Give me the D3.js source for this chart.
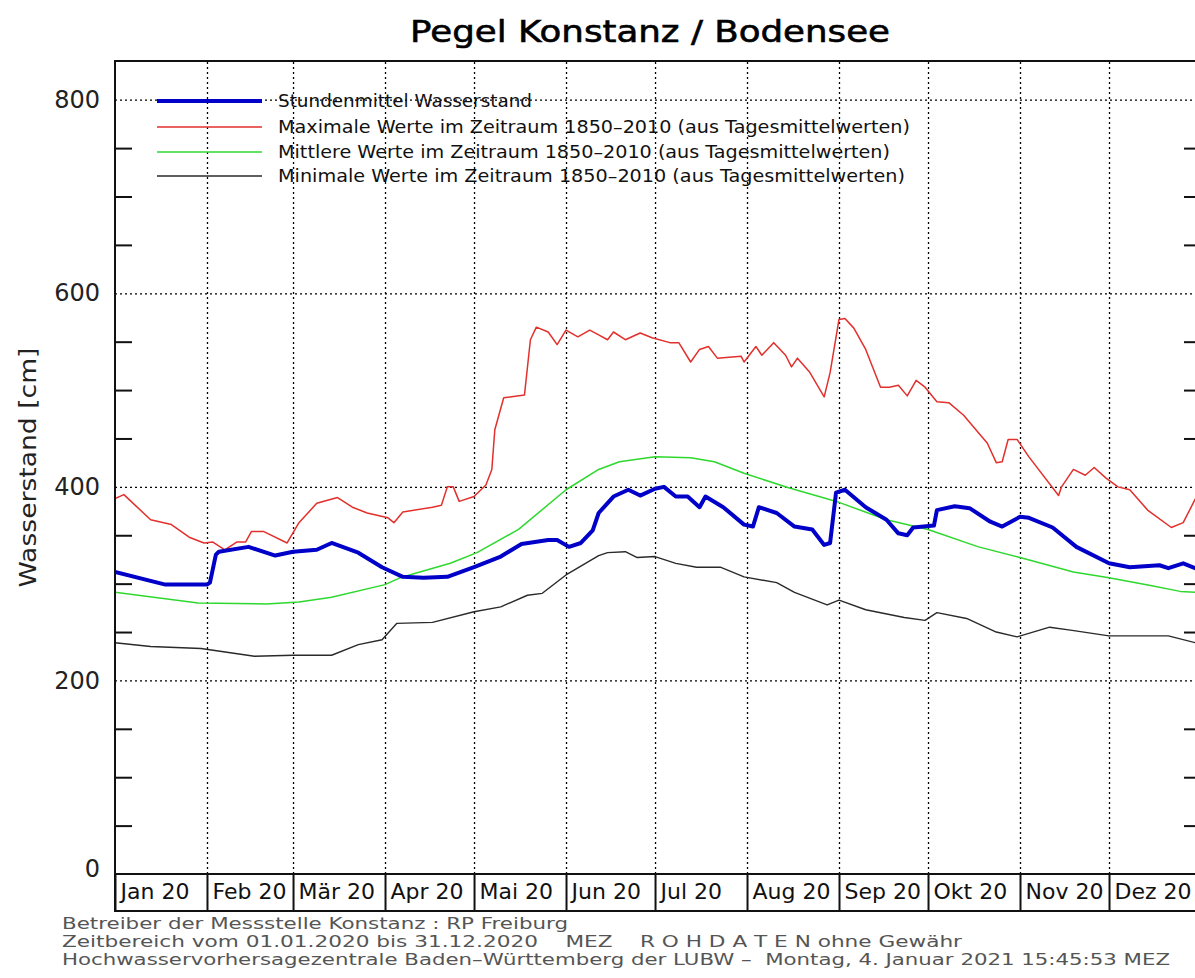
<!DOCTYPE html>
<html>
<head>
<meta charset="utf-8">
<script src="https://cdn.jsdelivr.net/npm/d3@7"></script>
<style>
  body { margin: 0; background: #fff; }
  svg { display: block; font-family: "DejaVu Sans", sans-serif; }
  .grid line { stroke: #000; stroke-width: 1.3; stroke-dasharray: 2 3; }
  .grid path { display: none; }
  .ticks line { stroke: #111; stroke-width: 2; }
  .ticks path { display: none; }
</style>
</head>
<body>
<svg id="chart"></svg>
<script>
// month labels in the band under the plot
const monthLabels = ['Jan 20', 'Feb 20', 'Mär 20', 'Apr 20', 'Mai 20', 'Jun 20',
  'Jul 20', 'Aug 20', 'Sep 20', 'Okt 20', 'Nov 20', 'Dez 20']
const yLabels = [0, 200, 400, 600, 800]

// Stundenmittel Wasserstand 2020 (cm)
const stundenmittel = [
  ['01-01', 312], ['01-18', 299], ['02-01', 299], ['02-02', 301], ['02-04', 330],
  ['02-05', 333], ['02-15', 338], ['02-24', 329], ['03-01', 333], ['03-09', 335],
  ['03-14', 342], ['03-23', 332], ['03-31', 317], ['04-07', 307], ['04-14', 306],
  ['04-22', 307], ['05-01', 317], ['05-10', 328], ['05-17', 341], ['05-26', 345],
  ['05-29', 345], ['06-02', 338], ['06-06', 342], ['06-10', 355], ['06-12', 373],
  ['06-17', 390], ['06-22', 397], ['06-26', 391], ['07-01', 398], ['07-04', 400],
  ['07-08', 390], ['07-12', 390], ['07-16', 379], ['07-18', 390], ['07-24', 379],
  ['07-31', 361], ['08-03', 359], ['08-05', 379], ['08-11', 373], ['08-17', 359],
  ['08-23', 356], ['08-27', 340], ['08-29', 342], ['08-31', 394], ['09-03', 397],
  ['09-10', 379], ['09-17', 366], ['09-21', 352], ['09-24', 350], ['09-26', 358],
  ['10-03', 360], ['10-04', 376], ['10-10', 380], ['10-15', 378], ['10-22', 364],
  ['10-26', 359], ['11-01', 369], ['11-04', 368], ['11-12', 358], ['11-20', 338],
  ['12-01', 321], ['12-08', 317], ['12-18', 319], ['12-21', 316], ['12-26', 321],
  ['12-30', 316], ['12-31', 317]
]

// Maximale Werte 1850-2010
const maximal = [
  ['01-01', 388], ['01-04', 392], ['01-13', 366], ['01-20', 361], ['01-26', 348],
  ['01-31', 342], ['02-03', 343], ['02-07', 335], ['02-11', 343], ['02-14', 343],
  ['02-16', 354], ['02-20', 354], ['02-28', 342], ['03-03', 363], ['03-09', 383],
  ['03-16', 389], ['03-21', 379], ['03-26', 373], ['04-02', 368], ['04-04', 363],
  ['04-07', 374], ['04-17', 379], ['04-20', 381], ['04-22', 400], ['04-24', 400],
  ['04-26', 385], ['05-01', 390], ['05-05', 402], ['05-07', 418], ['05-08', 459],
  ['05-11', 492], ['05-18', 495], ['05-20', 552], ['05-22', 565], ['05-26', 560],
  ['05-29', 547], ['06-01', 562], ['06-05', 555], ['06-09', 562], ['06-12', 557],
  ['06-15', 552], ['06-17', 560], ['06-21', 552], ['06-26', 559], ['06-30', 554],
  ['07-06', 549], ['07-09', 549], ['07-13', 529], ['07-16', 542], ['07-19', 545],
  ['07-22', 533], ['07-30', 535], ['07-31', 529], ['08-04', 545], ['08-06', 536],
  ['08-10', 549], ['08-14', 536], ['08-16', 524], ['08-18', 533], ['08-22', 519],
  ['08-27', 493], ['08-29', 518], ['09-01', 573], ['09-03', 574], ['09-06', 564],
  ['09-10', 542], ['09-15', 503], ['09-18', 503], ['09-21', 505], ['09-24', 494],
  ['09-27', 510], ['09-30', 503], ['10-04', 488], ['10-08', 487], ['10-13', 474],
  ['10-21', 445], ['10-24', 425], ['10-26', 426], ['10-28', 449], ['10-31', 449],
  ['11-04', 431], ['11-14', 391], ['11-15', 400], ['11-19', 418], ['11-23', 412],
  ['11-26', 420], ['11-30', 409], ['12-04', 400], ['12-08', 397], ['12-14', 376],
  ['12-22', 358], ['12-26', 363], ['12-30', 387], ['12-31', 392]
]

// Mittlere Werte 1850-2010
const mittel = [
  ['01-01', 291], ['01-29', 280], ['02-21', 279], ['03-03', 281], ['03-14', 286],
  ['04-01', 299], ['04-06', 306], ['04-23', 321], ['05-02', 332], ['05-16', 356],
  ['06-01', 397], ['06-12', 418], ['06-19', 426], ['07-01', 431], ['07-13', 430],
  ['07-21', 426], ['07-31', 414], ['08-15', 399], ['09-01', 384], ['09-17', 366],
  ['10-01', 356], ['10-18', 338], ['11-01', 327], ['11-19', 312], ['12-01', 306],
  ['12-15', 298], ['12-25', 292], ['12-31', 291]
]

// Minimale Werte 1850-2010
const minimal = [
  ['01-01', 239], ['01-13', 235], ['01-30', 233], ['02-17', 225], ['03-01', 226],
  ['03-14', 226], ['03-23', 237], ['03-31', 242], ['04-05', 259], ['04-17', 260],
  ['05-01', 271], ['05-10', 276], ['05-19', 288], ['05-24', 290], ['06-01', 309],
  ['06-12', 329], ['06-15', 332], ['06-21', 333], ['06-25', 327], ['07-01', 328],
  ['07-08', 321], ['07-15', 317], ['07-23', 317], ['07-31', 307], ['08-11', 301],
  ['08-17', 291], ['08-28', 278], ['09-01', 283], ['09-10', 273], ['09-23', 265],
  ['09-30', 262], ['10-04', 270], ['10-14', 264], ['10-24', 250], ['10-31', 245],
  ['11-11', 255], ['11-18', 252], ['12-01', 246], ['12-21', 246], ['12-30', 239],
  ['12-31', 238]
]

const series = [
  {name: 'Minimale Werte im Zeitraum 1850\u20132010 (aus Tagesmittelwerten)', data: minimal, color: '#2a2a2a', width: 1.4},
  {name: 'Mittlere Werte im Zeitraum 1850\u20132010 (aus Tagesmittelwerten)', data: mittel, color: '#2ed82e', width: 1.5},
  {name: 'Maximale Werte im Zeitraum 1850\u20132010 (aus Tagesmittelwerten)', data: maximal, color: '#e2302c', width: 1.5},
  {name: 'Stundenmittel Wasserstand', data: stundenmittel, color: '#0000c8', width: 4}
]
const legendOrder = [3, 2, 1, 0]
const legendWidths = [254, 632, 612, 627]

const W = 1195, H = 978
const margin = {top: 61, left: 115, right: 1201, bottom: 874}

const svg = d3.select('#chart').attr('width', W).attr('height', H)
const parse = d3.timeParse('%Y-%m-%d')

const x = d3.scaleTime()
  .domain([new Date(2020, 0, 1), new Date(2021, 0, 1)])
  .range([margin.left, margin.right])
const y = d3.scaleLinear().domain([0, 840]).range([margin.bottom, margin.top])

const monthStarts = d3.timeMonth.range(new Date(2020, 0, 1), new Date(2021, 0, 1))

svg.append('defs').append('clipPath').attr('id', 'clip')
  .append('rect')
  .attr('x', margin.left).attr('y', margin.top)
  .attr('width', margin.right - margin.left).attr('height', margin.bottom - margin.top)

// title
svg.append('text')
  .attr('x', 410).attr('y', 42)
  .attr('textLength', 480).attr('lengthAdjust', 'spacingAndGlyphs')
  .style('font-size', '31px').style('fill', '#000')
  .style('stroke', '#000').style('stroke-width', 0.6)
  .text('Pegel Konstanz / Bodensee')

// dotted grid
svg.append('g').attr('class', 'grid')
  .attr('transform', `translate(0,${margin.bottom})`)
  .call(d3.axisBottom(x).tickValues(monthStarts.slice(1))
    .tickSize(-(margin.bottom - margin.top)).tickFormat(''))
svg.append('g').attr('class', 'grid')
  .attr('transform', `translate(${margin.left},0)`)
  .call(d3.axisLeft(y).tickValues([200, 400, 600, 800])
    .tickSize(-(margin.right - margin.left)).tickFormat(''))

// small inward ticks every 50 cm on both sides
const minorTicks = d3.range(50, 841, 50).filter(v => v % 200 !== 0)
svg.append('g').attr('class', 'ticks')
  .attr('transform', `translate(${margin.left},0)`)
  .call(d3.axisRight(y).tickValues(minorTicks).tickSize(17).tickFormat(''))
svg.append('g').attr('class', 'ticks')
  .attr('transform', `translate(${margin.right},0)`)
  .call(d3.axisLeft(y).tickValues(minorTicks).tickSize(17).tickFormat(''))

// y labels
const yLab = svg.append('g')
  .attr('transform', `translate(${margin.left},0)`)
  .call(d3.axisLeft(y).tickValues(yLabels).tickSize(0).tickPadding(15))
yLab.select('.domain').remove()
yLab.selectAll('text')
  .style('font-family', '"DejaVu Sans", sans-serif')
  .style('font-size', '24px').style('fill', '#222')
  .attr('dy', d => d === 0 ? '0.1em' : '0.32em')

svg.append('text')
  .attr('transform', `translate(36,${(margin.top + margin.bottom) / 2}) rotate(-90)`)
  .attr('text-anchor', 'middle')
  .attr('textLength', 240).attr('lengthAdjust', 'spacingAndGlyphs')
  .style('font-size', '23px').style('fill', '#222')
  .text('Wasserstand [cm]')

// series
const line = d3.line()
  .x(d => x(parse('2020-' + d[0])))
  .y(d => y(d[1]))

const plot = svg.append('g').attr('clip-path', 'url(#clip)')
plot.selectAll('path.series').data(series).join('path')
  .attr('class', 'series')
  .attr('d', d => line(d.data))
  .attr('fill', 'none')
  .attr('stroke', d => d.color)
  .attr('stroke-width', d => d.width)
  .attr('stroke-linejoin', 'round')

// legend
const legendY = [101, 127, 152, 176]
const leg = svg.append('g')
legendOrder.forEach((si, i) => {
  const s = series[si]
  leg.append('line')
    .attr('x1', 157).attr('x2', 262)
    .attr('y1', legendY[i]).attr('y2', legendY[i])
    .attr('stroke', s.color).attr('stroke-width', s.width)
  leg.append('text')
    .attr('x', 278).attr('y', legendY[i] + 6)
    .attr('textLength', legendWidths[i]).attr('lengthAdjust', 'spacingAndGlyphs')
    .style('font-size', '17px').style('fill', '#111')
    .text(s.name)
})

// plot frame
svg.append('rect')
  .attr('x', margin.left).attr('y', margin.top)
  .attr('width', margin.right - margin.left).attr('height', margin.bottom - margin.top)
  .attr('fill', 'none').attr('stroke', '#111').attr('stroke-width', 2)

// month label band
const bandBottom = 911
svg.append('rect')
  .attr('x', margin.left).attr('y', margin.bottom)
  .attr('width', margin.right - margin.left).attr('height', bandBottom - margin.bottom)
  .attr('fill', 'none').attr('stroke', '#111').attr('stroke-width', 2)
const band = svg.append('g')
  .attr('transform', `translate(0,${margin.bottom})`)
  .call(d3.axisBottom(x).tickValues(monthStarts)
    .tickSize(bandBottom - margin.bottom)
    .tickFormat((d, i) => monthLabels[i]))
band.select('.domain').remove()
band.selectAll('line').attr('stroke', '#111').attr('stroke-width', 2)
band.selectAll('text')
  .attr('text-anchor', 'start').attr('x', 5).attr('y', 18).attr('dy', '0.32em')
  .style('font-family', '"DejaVu Sans", sans-serif')
  .style('font-size', '22px').style('fill', '#111')

// footer
const footer = [
  ['Betreiber der Messstelle Konstanz : RP Freiburg', 506],
  ['Zeitbereich vom 01.01.2020 bis 31.12.2020    MEZ    R O H D A T E N ohne Gew\u00e4hr', 900],
  ['Hochwasservorhersagezentrale Baden\u2013W\u00fcrttemberg der LUBW \u2013  Montag, 4. Januar 2021 15:45:53 MEZ', 1108]
]
footer.forEach((f, i) => {
  svg.append('text')
    .attr('x', 62).attr('y', 929 + i * 18)
    .attr('textLength', f[1]).attr('lengthAdjust', 'spacingAndGlyphs')
    .style('font-size', '16px').style('fill', '#555')
    .style('white-space', 'pre')
    .text(f[0])
})
</script>
</body>
</html>
